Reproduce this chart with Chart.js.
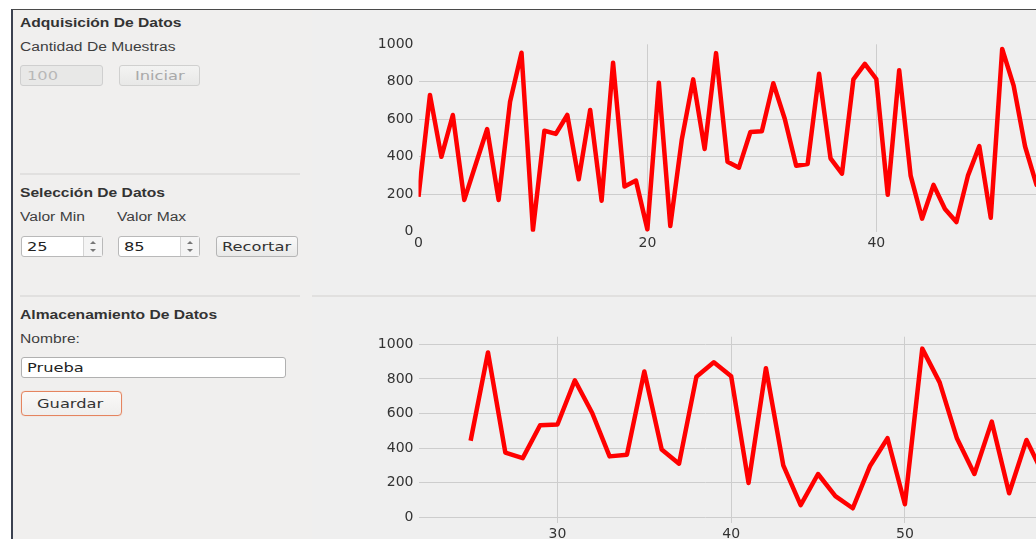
<!DOCTYPE html>
<html>
<head>
<meta charset="utf-8">
<script src="https://cdn.jsdelivr.net/npm/chart.js@4/dist/chart.umd.min.js"></script>
<style>
  html, body { margin:0; padding:0; width:1036px; height:539px; overflow:hidden; background:#ffffff; }
  #frame { position:absolute; left:11px; top:9px; width:1025px; height:530px; background:#f0efee;
           border-left:2px solid #3b4150; border-top:1px solid #4a4a4a; box-sizing:border-box; overflow:hidden; }
  .abs { position:absolute; }
  .t { position:absolute; white-space:nowrap; transform:scaleX(1.25); transform-origin:0 50%;
       font-family:"Liberation Sans", Arial, sans-serif; font-size:12.5px; line-height:16px; color:#3e3e3e; }
  .h { font-weight:bold; color:#333333; }
  .f { font-family:"DejaVu Sans", sans-serif; font-size:13px; }
  .box { position:absolute; box-sizing:border-box; border-radius:3px; }
  .sep { position:absolute; height:2px; background:#e1e0df; }
  .up, .dn { position:absolute; width:0; height:0; border-left:3px solid transparent; border-right:3px solid transparent; }
  .up { border-bottom:3px solid #777; }
  .dn { border-top:3px solid #777; }
  canvas { position:absolute; }
</style>
</head>
<body>
<div id="root" class="abs" style="left:0;top:0;width:1036px;height:539px;">
  <div id="frame"></div>
  <div class="abs" style="left:312px;top:10px;width:724px;height:529px;background:#efefef;"></div>

  <!-- Adquisición -->
  <div class="t h" style="left:20px;top:15px;">Adquisición De Datos</div>
  <div class="t" style="left:20px;top:39px;">Cantidad De Muestras</div>
  <div class="box" style="left:20px;top:65px;width:83px;height:21px;background:#e8e8e7;border:1px solid #cfcfcf;"></div>
  <div class="t f" style="left:27px;top:68px;color:#b8b8b8;">100</div>
  <div class="box" style="left:119px;top:65px;width:81px;height:21px;background:linear-gradient(#f3f3f2,#e8e8e7);border:1px solid #d0d0cf;"></div>
  <div class="t f" style="left:135px;top:68px;color:#a9a9a9;">Iniciar</div>

  <div class="sep" style="left:20px;top:173px;width:280px;"></div>

  <!-- Selección -->
  <div class="t h" style="left:20px;top:185px;">Selección De Datos</div>
  <div class="t" style="left:20px;top:209px;">Valor Min</div>
  <div class="t" style="left:117px;top:209px;">Valor Max</div>

  <div class="box" style="left:21px;top:236px;width:82px;height:21px;background:#ffffff;border:1px solid #b9b9b9;"></div>
  <div class="abs" style="left:83px;top:237px;width:1px;height:19px;background:#d4d4d4;"></div>
  <div class="abs" style="left:84px;top:237px;width:18px;height:19px;background:#f4f4f4;"></div>
  <div class="up" style="left:90px;top:241px;"></div>
  <div class="dn" style="left:90px;top:249px;"></div>
  <div class="t f" style="left:27px;top:239px;color:#222;">25</div>

  <div class="box" style="left:118px;top:236px;width:82px;height:21px;background:#ffffff;border:1px solid #b9b9b9;"></div>
  <div class="abs" style="left:180px;top:237px;width:1px;height:19px;background:#d4d4d4;"></div>
  <div class="abs" style="left:181px;top:237px;width:18px;height:19px;background:#f4f4f4;"></div>
  <div class="up" style="left:187px;top:241px;"></div>
  <div class="dn" style="left:187px;top:249px;"></div>
  <div class="t f" style="left:124px;top:239px;color:#222;">85</div>

  <div class="box" style="left:216px;top:236px;width:82px;height:21px;background:linear-gradient(#f9f9f9,#e9e9e8);border:1px solid #b5b5b5;"></div>
  <div class="t f" style="left:222px;top:239px;color:#333;">Recortar</div>

  <div class="sep" style="left:20px;top:295px;width:280px;"></div>
  <div class="sep" style="left:312px;top:295px;width:724px;"></div>

  <!-- Almacenamiento -->
  <div class="t h" style="left:20px;top:307px;">Almacenamiento De Datos</div>
  <div class="t" style="left:20px;top:331px;">Nombre:</div>
  <div class="box" style="left:21px;top:357px;width:265px;height:21px;background:#ffffff;border:1px solid #b0b0b0;"></div>
  <div class="t f" style="left:27px;top:360px;color:#222;">Prueba</div>
  <div class="box" style="left:21px;top:391px;width:101px;height:25px;background:linear-gradient(#faf9f8,#efeeed);border:1.5px solid #e5845f;border-radius:4px;box-shadow:0 0 1px #f0b090;"></div>
  <div class="t f" style="left:37px;top:396px;color:#333;">Guardar</div>

  <canvas id="top" width="1223" height="230" style="left:360px;top:30px;"></canvas>
  <canvas id="bot" width="1225" height="217" style="left:360px;top:322px;"></canvas>
</div>

<script>
// Samples (index 0..58)
const samples = [187, 730, 400, 623, 170, 360, 548, 170, 694, 955,
                 10, 539, 522, 623, 280, 650, 166, 902, 241, 273,
                 13, 795, 31, 490, 813, 442, 953, 374, 342, 532,
                 536, 792, 603, 352, 362, 843, 392, 310, 813, 896,
                 815, 198, 862, 300, 70, 250, 122, 52, 298, 457,
                 75, 975, 780, 455, 250, 553, 139, 447, 240];
const cropMin = 25;            // Valor Min
const cropMax = 85;            // Valor Max
const yTicks = [0, 200, 400, 600, 800, 1000];
const topXTicks = [0, 20, 40, 60, 80, 100];
const botXTicks = [30, 40, 50, 60, 70, 80];

const topPoints = samples.map((v, i) => ({x: i, y: v}));
const botPoints = samples.slice(cropMin).map((v, i) => ({x: cropMin + i, y: v}));

const tickFont = {family: 'DejaVu Sans', size: 14};
const tickColor = '#333333';
const gridColor = '#cdcdcd';

function makeChart(id, points, xMin, xMax, xTicks, yMin, yMax, padTop, xAxisH, hideEdges) {
  return new Chart(document.getElementById(id), {
    type: 'line',
    data: { datasets: [{ data: points, borderColor: '#ff0000', borderWidth: 4.5,
                         pointRadius: 0, tension: 0, fill: false, borderJoinStyle: 'round', borderCapStyle: 'butt' }] },
    options: {
      responsive: false, animation: false,
      plugins: { legend: {display: false}, tooltip: {enabled: false} },
      layout: { padding: {top: padTop, right: 20, left: 0, bottom: 0} },
      scales: {
        x: {
          type: 'linear', min: xMin, max: xMax,
          afterBuildTicks: ax => { ax.ticks = xTicks.map(v => ({value: v})); },
          afterFit: ax => { ax.height = xAxisH; },
          border: {display: false},
          grid: { drawTicks: false, lineWidth: 1,
                  color: c => (hideEdges && (c.tick && (c.tick.value === xMin || c.tick.value === xMax))) ? 'rgba(0,0,0,0)' : gridColor },
          ticks: { font: tickFont, color: tickColor, padding: 3, autoSkip: false, maxRotation: 0,
                   callback: v => String(v) }
        },
        y: {
          type: 'linear', min: yMin, max: yMax,
          afterBuildTicks: ax => { ax.ticks = yTicks.map(v => ({value: v})); },
          afterFit: ax => { ax.width = 58.5; },
          border: {display: false},
          grid: { drawTicks: false, lineWidth: 1,
                  color: c => (hideEdges && (c.tick && (c.tick.value === yMin || c.tick.value === yMax))) ? 'rgba(0,0,0,0)' : gridColor },
          ticks: { font: tickFont, color: tickColor, padding: 5, autoSkip: false,
                   callback: v => String(v) }
        }
      }
    }
  });
}

makeChart('top', topPoints, 0, 100, topXTicks, 0, 1000, 14.3, 28.2, true);
makeChart('bot', botPoints, 22, 88, botXTicks, -35, 1044, 14.7, 15.7, false);
</script>
</body>
</html>
